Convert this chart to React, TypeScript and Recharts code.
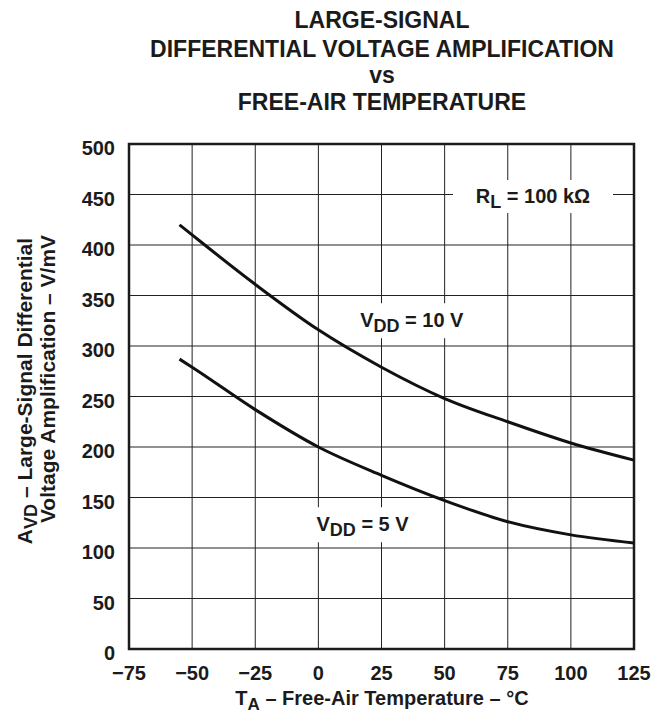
import React from 'react'
import {
  LineChart,
  Line,
  XAxis,
  YAxis,
  CartesianGrid,
  ReferenceArea,
  ReferenceDot,
} from 'recharts'

// free-air temperature (°C) and A_VD (V/mV)
const temps = [-55, -50, -25, 0, 25, 50, 75, 100, 125]
const avdVdd10 = [420, 410, 361, 316, 279, 248, 225, 204, 187]
const avdVdd5 = [287, 279, 237, 200, 172, 147, 126, 113, 105]

const xTicks = [-75, -50, -25, 0, 25, 50, 75, 100, 125]
const yTicks = [0, 50, 100, 150, 200, 250, 300, 350, 400, 450, 500]

const titleLines = [
  'LARGE-SIGNAL',
  'DIFFERENTIAL VOLTAGE AMPLIFICATION',
  'vs',
  'FREE-AIR TEMPERATURE',
]

// in-plot notes, anchored in data space (temperature, A_VD)
const notes = [
  { t: 85, a: 450, main: 'R', sub: 'L', rest: ' = 100 kΩ', w: 160, h: 33 },
  { t: 37, a: 327, main: 'V', sub: 'DD', rest: ' = 10 V', w: 122, h: 35 },
  { t: 17.5, a: 125, main: 'V', sub: 'DD', rest: ' = 5 V', w: 110, h: 35 },
]

const data = temps.map((t, i) => ({ t, v10: avdVdd10[i], v5: avdVdd5[i] }))

const FONT = '"Liberation Sans", Arial, Helvetica, sans-serif'
const INK = '#1b1b1b'

const fmtTemp = (v: number) => (v < 0 ? `\u2212${Math.abs(v)}` : `${v}`)

function XTick({ x, y, payload }: any) {
  return (
    <text x={x} y={y + 31} textAnchor="middle" fontFamily={FONT} fontWeight="bold" fontSize={20} fill={INK}>
      {fmtTemp(payload.value)}
    </text>
  )
}

function YTick({ x, y, payload }: any) {
  return (
    <text x={x - 14} y={y + 11} textAnchor="end" fontFamily={FONT} fontWeight="bold" fontSize={20} fill={INK}>
      {payload.value}
    </text>
  )
}

function noteShape(n: (typeof notes)[number]) {
  return ({ cx, cy }: any) => (
    <g>
      <rect x={cx - n.w / 2} y={cy - n.h / 2 + 2} width={n.w} height={n.h} fill="#fff" />
      <text x={cx} y={cy + 8} textAnchor="middle" fontFamily={FONT} fontWeight="bold" fontSize={20} fill={INK}>
        {n.main}
        <tspan fontSize={18} dy={5}>{n.sub}</tspan>
        <tspan fontSize={20} dy={-5}>{n.rest}</tspan>
      </text>
    </g>
  )
}

export default function App() {
  return (
    <div style={{ position: 'absolute', left: 0, top: 0, width: 652, height: 713, background: '#fff' }}>
      <LineChart width={652} height={713} data={data} margin={{ top: 144, right: 18, bottom: 0, left: 0 }}>
        <CartesianGrid stroke="#222" strokeWidth={1} />
        <XAxis
          dataKey="t"
          type="number"
          domain={[-75, 125]}
          ticks={xTicks}
          tickLine={false}
          axisLine={false}
          tickSize={0}
          tickMargin={0}
          height={64}
          tick={<XTick />}
          interval={0}
        />
        <YAxis
          type="number"
          domain={[0, 500]}
          ticks={yTicks}
          tickLine={false}
          axisLine={false}
          tickSize={0}
          tickMargin={0}
          width={129}
          tick={<YTick />}
          interval={0}
        />
        <ReferenceArea x1={-75} x2={125} y1={0} y2={500} fill="none" stroke={INK} strokeWidth={2.5} />
        {notes.map((n, i) => (
          <ReferenceDot key={i} x={n.t} y={n.a} r={0} shape={noteShape(n)} />
        ))}
        <Line type="monotone" dataKey="v10" stroke="#111" strokeWidth={3} dot={false} isAnimationActive={false} />
        <Line type="monotone" dataKey="v5" stroke="#111" strokeWidth={3} dot={false} isAnimationActive={false} />
      </LineChart>
      <svg
        width={652}
        height={713}
        style={{ position: 'absolute', left: 0, top: 0, pointerEvents: 'none' }}
        fontFamily={FONT}
        fontWeight="bold"
        fill={INK}
      >
        {titleLines.map((line, i) => (
          <text key={line} x={382} y={[28, 57, 83, 110][i]} textAnchor="middle" fontSize={23}>
            {line}
          </text>
        ))}
        <text x={382} y={705} textAnchor="middle" fontSize={20}>
          T<tspan fontSize={17} dy={5}>A</tspan>
          <tspan dy={-5}> – Free-Air Temperature – °C</tspan>
        </text>
        <text x={32} y={391} textAnchor="middle" fontSize={21} transform="rotate(-90 32 391)">
          A<tspan fontSize={18} dy={5}>VD</tspan>
          <tspan dy={-5}> – Large-Signal Differential</tspan>
        </text>
        <text x={55} y={379} textAnchor="middle" fontSize={21} transform="rotate(-90 55 379)">
          Voltage Amplification – V/mV
        </text>
      </svg>
    </div>
  )
}
